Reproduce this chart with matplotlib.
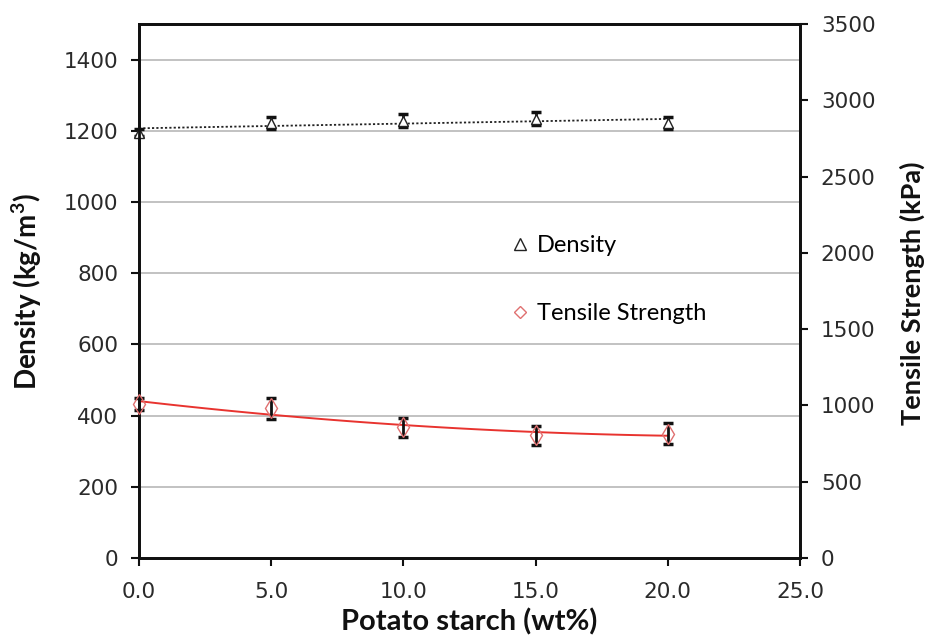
import numpy as np
import matplotlib
matplotlib.use("Agg")
import matplotlib.pyplot as plt
from matplotlib.lines import Line2D

starch = [0.0, 5.0, 10.0, 15.0, 20.0]
density = [1195, 1222, 1228, 1234, 1222]
density_err = [10, 17, 18, 19, 16]
tensile = [1010, 980, 858, 803, 815]
tensile_err = [40, 70, 62, 60, 68]

x_ticks = [0, 5, 10, 15, 20, 25]
left_ticks = [0, 200, 400, 600, 800, 1000, 1200, 1400]
right_ticks = [0, 500, 1000, 1500, 2000, 2500, 3000, 3500]

fig = plt.figure(figsize=(9.26, 6.39), dpi=100)
ax = fig.add_axes([139/926, (639-558)/639, (800-139)/926, (558-24)/639])
ax2 = ax.twinx()

tick_font = dict(family="DejaVu Sans", size=15.5, color="#2a2a2a")

# Density
ax.set_xlim(0, 25)
ax.set_ylim(0, 1500)
ax.set_xticks(x_ticks)
ax.set_xticklabels([f"{v:.1f}" for v in x_ticks], **tick_font)
ax.set_yticks(left_ticks)
ax.set_yticklabels([str(v) for v in left_ticks], **tick_font)
ax.grid(axis="y", color="#b8b8b8", linewidth=1.2)
ax.set_axisbelow(True)

xs = np.array(starch)
p1 = np.polyfit(xs, density, 1)
xl = np.linspace(0, 20, 50)
ax.plot(xl, np.polyval(p1, xl), linestyle=(0, (1.2, 1.2)), color="#222222", linewidth=1.3, zorder=3)
ax.errorbar(starch, density, yerr=density_err, fmt="^", mfc="white", mec="#222222", ms=7,
            ecolor="#111111", elinewidth=2, capsize=3.5, capthick=2.5, zorder=4, clip_on=False)

# Tensile
ax2.set_ylim(0, 3500)
ax2.set_yticks(right_ticks)
ax2.set_yticklabels([str(v) for v in right_ticks], **tick_font)
p2 = np.polyfit(xs, tensile, 2)
ax2.plot(xl, np.polyval(p2, xl), color="#e8332f", linewidth=1.4, zorder=3)
ax2.errorbar(starch, tensile, yerr=tensile_err, fmt="d", mfc="none", mec="#e07070", ms=10,
             ecolor="#111111", elinewidth=2, capsize=3.5, capthick=2.5, zorder=4, clip_on=False)

for a in (ax, ax2):
    for s in a.spines.values():
        s.set_linewidth(2)
        s.set_color("#111111")
    a.tick_params(direction="out", length=6, width=1.5, color="#111111", pad=9)
ax.tick_params(axis="x", pad=11)

label_font = dict(family="Lato", weight="bold", color="#111111")
ax.set_xlabel("Potato starch (wt%)", labelpad=5, size=21, **label_font)
fig.text(27/926, 1 - 292/639, "Density (kg/m$^\\mathregular{3}$)", rotation=90,
         ha="center", va="center", size=20, **label_font)
fig.text(912/926, 1 - 293/639, "Tensile Strength (kPa)", rotation=90,
         ha="center", va="center", size=19.5, **label_font)

handles = [Line2D([], [], marker="^", linestyle="none", mfc="white", mec="#222222", ms=8),
           Line2D([], [], marker="D", linestyle="none", mfc="white", mec="#e07070", ms=6)]
leg = ax.legend(handles, ["Density", "Tensile Strength"], loc="upper left",
                bbox_to_anchor=(0.523, 0.645), frameon=False, labelspacing=2.0,
                handletextpad=0.1, handlelength=1.2,
                prop=dict(family="Lato", size=17))

fig.savefig("out.png", dpi=100)
